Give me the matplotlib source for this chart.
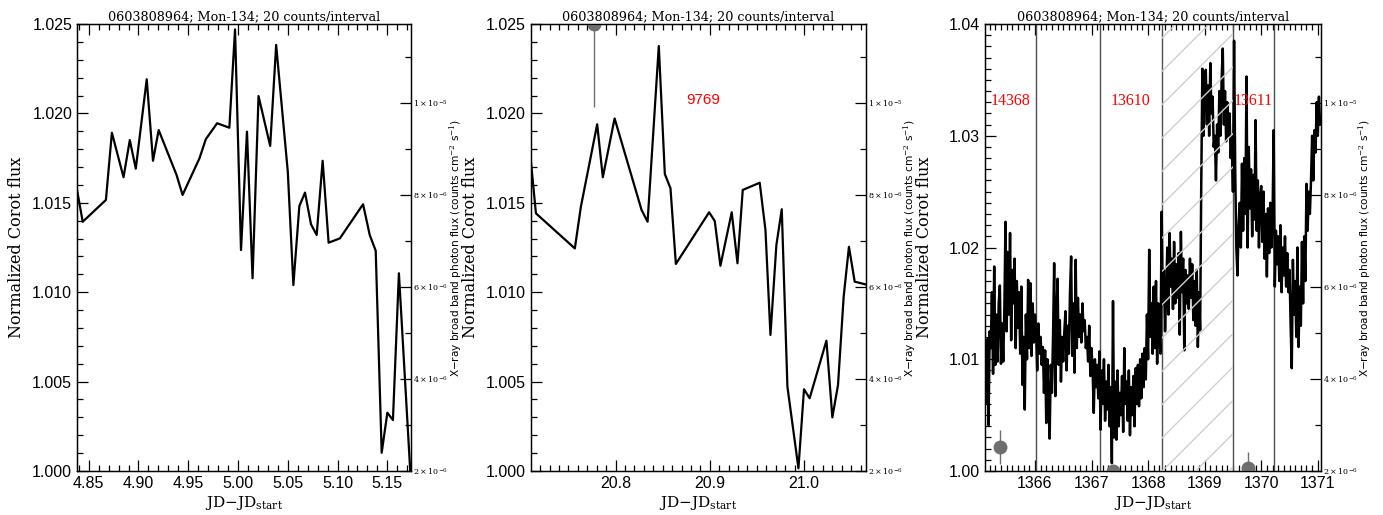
import numpy as np
import matplotlib
matplotlib.use('Agg')
import matplotlib.pyplot as plt
from matplotlib.ticker import MultipleLocator, FixedLocator, FixedFormatter

plt.rcParams['mathtext.fontset'] = 'dejavuserif'

TITLE = '0603808964; Mon-134; 20 counts/interval'

# --- light curve, first window
t1 = [4.8383, 4.8440, 4.8673, 4.8733, 4.8850, 4.8913, 4.8973, 4.9083, 4.9146, 4.9203,
      4.9383, 4.9443, 4.9613, 4.9676, 4.9790, 4.9913, 4.9970, 5.0030, 5.0090, 5.0146,
      5.0206, 5.0323, 5.0383, 5.0500, 5.0556, 5.0616, 5.0673, 5.0733, 5.0790, 5.0850,
      5.0910, 5.1023, 5.1256, 5.1323, 5.1383, 5.1443, 5.1500, 5.1556, 5.1616, 5.1735]
f1 = [1.01572, 1.01394, 1.01516, 1.01892, 1.01643, 1.01851, 1.01691, 1.02191, 1.01735, 1.01907,
      1.01655, 1.01544, 1.01749, 1.01855, 1.01945, 1.01920, 1.02470, 1.01236, 1.01898, 1.01078,
      1.02097, 1.01818, 1.02383, 1.01674, 1.01040, 1.01482, 1.01557, 1.01380, 1.01320, 1.01735,
      1.01277, 1.01301, 1.01492, 1.01320, 1.01232, 1.00102, 1.00326, 1.00285, 1.01106, 0.99950]

# --- light curve, second window
t2 = [20.7102, 20.7155, 20.7568, 20.7632, 20.7805, 20.7865, 20.7990, 20.8276, 20.8340, 20.8459,
      20.8523, 20.8583, 20.8640, 20.8993, 20.9053, 20.9113, 20.9233, 20.9294, 20.9350, 20.9530,
      20.9591, 20.9644, 20.9707, 20.9764, 20.9824, 20.9941, 21.0000, 21.0060, 21.0238, 21.0301,
      21.0361, 21.0421, 21.0477, 21.0538, 21.0651]
f2 = [1.01730, 1.01441, 1.01245, 1.01478, 1.01939, 1.01643, 1.01972, 1.01460, 1.01394, 1.02377,
      1.01661, 1.01581, 1.01158, 1.01447, 1.01398, 1.01148, 1.01447, 1.01162, 1.01572, 1.01612,
      1.01348, 1.00761, 1.01264, 1.01464, 1.00472, 1.00015, 1.00457, 1.00407, 1.00729, 1.00300,
      1.00481, 1.00975, 1.01254, 1.01059, 1.01044]

# x-ray photon flux, second window
tx2 = [20.777]
fx2 = [1.172e-5]
ex2 = [1.8e-6]

# --- light curve, third window (regular sampling, 0.02 d)
t3_start, t3_end = 1365.10, 1371.04
f3 = [
    1.0095, 1.0100, 1.0060, 1.0118, 1.0041,
    1.0125, 1.0110, 1.0160, 1.0087, 1.0183,
    1.0095, 1.0140, 1.0098, 1.0150, 1.0166,
    1.0096, 1.0132, 1.0098, 1.0145, 1.0223,
    1.0125, 1.0196, 1.0140, 1.0213, 1.0117,
    1.0180, 1.0150, 1.0190, 1.0110, 1.0170,
    1.0128, 1.0160, 1.0105, 1.0165, 1.0077,
    1.0120, 1.0055, 1.0140, 1.0100, 1.0171,
    1.0110, 1.0168, 1.0103, 1.0150, 1.0115,
    1.0140, 1.0125, 1.0090, 1.0132, 1.0105,
    1.0120, 1.0095, 1.0111, 1.0070, 1.0108,
    1.0043, 1.0100, 1.0060, 1.0029, 1.0095,
    1.0070, 1.0120, 1.0186, 1.0067, 1.0140,
    1.0172, 1.0095, 1.0135, 1.0080, 1.0120,
    1.0098, 1.0125, 1.0143, 1.0090, 1.0130,
    1.0105, 1.0160, 1.0192, 1.0103, 1.0150,
    1.0088, 1.0189, 1.0110, 1.0155, 1.0120,
    1.0140, 1.0115, 1.0150, 1.0125, 1.0135,
    1.0110, 1.0120, 1.0098, 1.0130, 1.0085,
    1.0110, 1.0090, 1.0052, 1.0100, 1.0075,
    1.0095, 1.0065, 1.0107, 1.0037, 1.0090,
    1.0060, 1.0100, 1.0045, 1.0080, 1.0055,
    1.0095, 1.0040, 1.0075, 1.0007, 1.0152,
    1.0030, 1.0080, 1.0028, 1.0090, 1.0040,
    1.0070, 1.0050, 1.0085, 1.0035, 1.0110,
    1.0060, 1.0080, 1.0045, 1.0090, 1.0032,
    1.0075, 1.0050, 1.0085, 1.0040, 1.0092,
    1.0060, 1.0095, 1.0058, 1.0100, 1.0065,
    1.0105, 1.0075, 1.0110, 1.0082, 1.0140,
    1.0100, 1.0198, 1.0120, 1.0150, 1.0105,
    1.0165, 1.0110, 1.0170, 1.0096, 1.0150,
    1.0120, 1.0105, 1.0232, 1.0150, 1.0180,
    1.0125, 1.0160, 1.0200, 1.0140, 1.0213,
    1.0165, 1.0190, 1.0145, 1.0205, 1.0150,
    1.0185, 1.0155, 1.0195, 1.0122, 1.0214,
    1.0160, 1.0190, 1.0108, 1.0180, 1.0150,
    1.0175, 1.0145, 1.0190, 1.0155, 1.0185,
    1.0135, 1.0170, 1.0130, 1.0180, 1.0111,
    1.0160, 1.0126, 1.0257, 1.0360, 1.0300,
    1.0340, 1.0359, 1.0310, 1.0345, 1.0300,
    1.0365, 1.0320, 1.0335, 1.0290, 1.0300,
    1.0260, 1.0310, 1.0285, 1.0340, 1.0300,
    1.0350, 1.0378, 1.0310, 1.0340, 1.0295,
    1.0330, 1.0300, 1.0320, 1.0280, 1.0300,
    1.0250, 1.0385, 1.0270, 1.0200, 1.0175,
    1.0220, 1.0240, 1.0200, 1.0275, 1.0215,
    1.0280, 1.0230, 1.0353, 1.0200, 1.0290,
    1.0235, 1.0270, 1.0210, 1.0265, 1.0225,
    1.0314, 1.0215, 1.0260, 1.0200, 1.0245,
    1.0255, 1.0205, 1.0250, 1.0190, 1.0230,
    1.0174, 1.0235, 1.0195, 1.0240, 1.0200,
    1.0225, 1.0305, 1.0165, 1.0215, 1.0185,
    1.0210, 1.0170, 1.0220, 1.0160, 1.0200,
    1.0175, 1.0210, 1.0165, 1.0195, 1.0160,
    1.0180, 1.0130, 1.0092, 1.0189, 1.0140,
    1.0170, 1.0120, 1.0200, 1.0111, 1.0165,
    1.0130, 1.0205, 1.0150, 1.0210, 1.0170,
    1.0257, 1.0215, 1.0250, 1.0230, 1.0260,
    1.0300, 1.0260, 1.0305, 1.0285, 1.0330,
    1.0300, 1.0335, 1.0310,
]
t3 = np.linspace(t3_start, t3_end, len(f3))

# x-ray photon flux, third window
tx3 = [1365.382, 1367.373, 1369.758]
fx3 = [2.53e-6, 2.00e-6, 2.07e-6]
ex3 = [0.37e-6, 0.10e-6, 0.35e-6]

# observation boundaries and ids, third window
obs_edges = [1366.02, 1367.15, 1370.22]
hatch_span = (1368.25, 1369.50)
obs_ids = ['14368', '13610', '13611']
obs_id_x = [1365.576, 1367.696, 1369.857]

XRAY_LIM = (2e-6, 1.1726e-5)
XRAY_TICKS = [2e-6, 4e-6, 6e-6, 8e-6, 1e-5]
XRAY_LABELS = [r'$2\times10^{-6}$', r'$4\times10^{-6}$', r'$6\times10^{-6}$',
               r'$8\times10^{-6}$', r'$1\times10^{-5}$']

SERIF = 'DejaVu Serif'
SANS = 'Liberation Sans'

plt.rcParams['hatch.color'] = '#c8c8c8'
plt.rcParams['hatch.linewidth'] = 1.0

FIG_W = 1383
fig = plt.figure(figsize=(13.83, 5.15), dpi=100)
boxes = [[0.0557, 0.0854, 0.2413, 0.868],
         [0.3839, 0.0854, 0.2420, 0.868],
         [0.7122, 0.0854, 0.2427, 0.868]]


def setup(ax, xlim, ylim, xmaj, xmin, ymaj, ymin, yfmt):
    ax.set_xlim(*xlim)
    ax.set_ylim(*ylim)
    ax.xaxis.set_major_locator(MultipleLocator(xmaj))
    ax.xaxis.set_minor_locator(MultipleLocator(xmin))
    ax.yaxis.set_major_locator(MultipleLocator(ymaj))
    ax.yaxis.set_minor_locator(MultipleLocator(ymin))
    ax.yaxis.set_major_formatter(plt.FormatStrFormatter(yfmt))
    ax.tick_params(which='both', direction='in', top=True, right=False,
                   width=0.9, labelsize=11.5, colors='black')
    ax.tick_params(which='major', length=8)
    ax.tick_params(which='minor', length=4)
    for lab in ax.get_xticklabels() + ax.get_yticklabels():
        lab.set_fontfamily(SANS)
    ax.set_title(TITLE, fontsize=9.2, family=SERIF, pad=3)
    ax.set_xlabel(r'JD$-$JD$_{\rm start}$', fontsize=11, family=SERIF, labelpad=2)
    for sp in ax.spines.values():
        sp.set_linewidth(1.0)

    # axis labels placed by pixel offset from the spines
    w_px = ax.get_position().width * FIG_W
    ax.set_ylabel('Normalized Corot flux', fontsize=11.5, family=SERIF)
    ax.yaxis.set_label_coords(-60.5 / w_px, 0.5)
    ax.yaxis.label.set_va('center')

    tw = ax.twinx()
    tw.set_ylim(*XRAY_LIM)
    tw.yaxis.set_major_locator(FixedLocator(XRAY_TICKS))
    tw.yaxis.set_major_formatter(FixedFormatter(XRAY_LABELS))
    tw.yaxis.set_minor_locator(MultipleLocator(1e-6))
    tw.tick_params(which='both', direction='in', labelsize=5.8, pad=1.5, width=0.9)
    tw.tick_params(which='major', length=8)
    tw.tick_params(which='minor', length=4)
    tw.set_ylabel(r'X$-$ray broad band photon flux (counts cm$^{-2}$ s$^{-1}$)',
                  fontsize=7.6, family='DejaVu Sans')
    tw.yaxis.set_label_coords(1 + 44.5 / w_px, 0.5)
    tw.yaxis.label.set_va('center')
    return tw


# panel 1
ax1 = fig.add_axes(boxes[0])
tw1 = setup(ax1, (4.8383, 5.1735), (1.000, 1.025), 0.05, 0.01, 0.005, 0.001, '%.3f')
ax1.plot(t1, f1, color='black', lw=1.6, zorder=3)

# panel 2
ax2 = fig.add_axes(boxes[1])
tw2 = setup(ax2, (20.7102, 21.0654), (1.000, 1.025), 0.1, 0.01, 0.005, 0.001, '%.3f')
ax2.plot(t2, f2, color='black', lw=1.6, zorder=3)
tw2.errorbar(tx2, fx2, yerr=ex2, fmt='o', color='#6e6e6e', ms=9, elinewidth=1.0,
             capsize=0, clip_on=True)
ax2.text(20.8926, 1.02075, '9769', color='red', fontsize=11, family=SANS,
         ha='center', va='center')

# panel 3
ax3 = fig.add_axes(boxes[2])
tw3 = setup(ax3, (1365.117, 1371.05), (1.00, 1.04), 1, 0.1, 0.01, 0.001, '%.2f')
ax3.plot(t3, f3, color='black', lw=1.8, zorder=3)
for xe in obs_edges:
    ax3.axvline(xe, color='#505050', lw=1.0, zorder=2)
ax3.axvline(hatch_span[0], color='#505050', lw=1.0, zorder=2)
ax3.axvline(hatch_span[1], color='#505050', lw=1.0, zorder=2)
ax3.axvspan(hatch_span[0], hatch_span[1], facecolor='none', edgecolor='#cfcfcf',
            hatch='/', lw=0, zorder=4)
tw3.errorbar(tx3, fx3, yerr=ex3, fmt='o', color='#6e6e6e', ms=9, elinewidth=1.0,
             capsize=0, clip_on=True)
for name, xo in zip(obs_ids, obs_id_x):
    ax3.text(xo, 1.0331, name, color='red', fontsize=11.5, family='Liberation Serif',
             ha='center', va='center', zorder=5)

fig.savefig('out.png', dpi=100)
